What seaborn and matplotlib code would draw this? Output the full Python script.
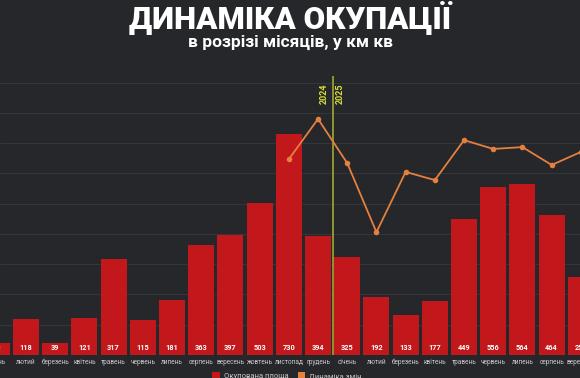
import numpy as np
import pandas as pd
import matplotlib
matplotlib.use("Agg")
import matplotlib.pyplot as plt
import matplotlib.transforms as mtrans
from matplotlib.patches import Patch
import seaborn as sns

# ---- data ----
months = ["січень", "лютий", "березень", "квітень", "травень", "червень",
          "липень", "серпень", "вересень", "жовтень", "листопад", "грудень",
          "січень", "лютий", "березень", "квітень", "травень", "червень",
          "липень", "серпень", "вересень"]
area = [40, 118, 39, 121, 317, 115, 181, 363, 397, 503, 730, 394,
        325, 192, 133, 177, 449, 556, 564, 464, 258]
trend_idx = [10, 11, 12, 13, 14, 15, 16, 17, 18, 19, 20]
trend_vals = [647, 780, 634, 406, 605, 578, 710, 681, 687, 628, 671]
year_labels = ["2024", "2025"]
title = "ДИНАМІКА ОКУПАЦІЇ"
subtitle = "в розрізі місяців, у км кв"
legend_labels = ["Окупована площа", "Динаміка змін"]

BG = "#26272b"
RED = "#c2171b"
ORANGE = "#e5803e"
YEL_LINE = "#a9b52e"
YEL_TXT = "#dcdc3a"

sns.set_theme(style="dark")
plt.rcParams["font.family"] = ["Roboto", "DejaVu Sans"]

fig = plt.figure(figsize=(5.8, 3.78), dpi=100, facecolor=BG)
ax = fig.add_axes([0, 23 / 378, 1, 279 / 378])
ax.set_facecolor(BG)

df = pd.DataFrame({"idx": list(range(len(area))), "area": area})
sns.barplot(data=df, x="idx", y="area", color=RED, saturation=1,
            width=0.89, ax=ax, zorder=2, edgecolor="none", linewidth=0)

sns.lineplot(x=trend_idx, y=trend_vals, color=ORANGE, linewidth=1.3,
             marker="o", markersize=4, markeredgewidth=0, ax=ax, zorder=4)

ax.set_xlim(0.11, 19.97)
ax.set_ylim(0, 922)
ax.set_yticks(range(100, 1000, 100))
ax.grid(axis="y", color="#35363b", linewidth=0.8)
ax.grid(axis="x", visible=False)
ax.set_axisbelow(True)
for s in ax.spines.values():
    s.set_visible(False)
ax.set_xticks([])
ax.set_yticklabels([])
ax.tick_params(left=False, bottom=False)
ax.set_xlabel("")
ax.set_ylabel("")

# value labels inside bars
for i, v in enumerate(area):
    ax.text(i, 22, str(v), ha="center", va="center", color="white",
            fontsize=5.3, fontweight="bold", zorder=5)

# month labels below axis
trans = mtrans.blended_transform_factory(ax.transData, ax.transAxes)
for i, m in enumerate(months):
    ax.text(i, -0.027, m, transform=trans, ha="center", va="center",
            color="#c9c9c9", fontsize=4.7, clip_on=False)

# year separator
ax.axvline(11.5, color=YEL_LINE, linewidth=1.1, zorder=3)
ax.text(11.22, 862, year_labels[0], rotation=90, ha="center", va="center",
        color=YEL_TXT, fontsize=6.5, fontweight="bold", zorder=5)
ax.text(11.77, 862, year_labels[1], rotation=90, ha="center", va="center",
        color=YEL_TXT, fontsize=6.5, fontweight="bold", zorder=5)

# titles
fig.text(0.5, 1 - 17 / 378, title, ha="center", va="center", color="white",
         fontsize=22.5, fontweight="heavy")
fig.text(0.5, 1 - 42.5 / 378, subtitle, ha="center", va="center", color="white",
         fontsize=12.5, fontweight="bold")

# legend (partly cut at bottom edge)
handles = [Patch(facecolor=RED, edgecolor="none"),
           Patch(facecolor=ORANGE, edgecolor="none")]
fig.legend(handles, legend_labels, loc="center", bbox_to_anchor=(0.495, 2 / 378),
           ncol=2, frameon=False, fontsize=5.5, labelcolor="#c9c9c9",
           handlelength=1.0, handleheight=1.0, columnspacing=1.2,
           handletextpad=0.5, borderpad=0)

fig.savefig("out.png", dpi=100, facecolor=BG)
